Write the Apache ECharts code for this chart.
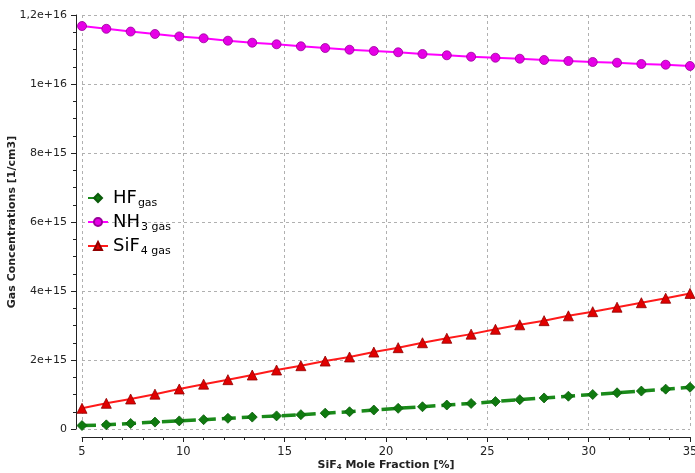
<!DOCTYPE html>
<html>
<head>
<meta charset="utf-8">
<script src="https://cdn.jsdelivr.net/npm/echarts@6/dist/echarts.min.js"></script>
<style>
html,body{margin:0;padding:0;background:#fff;}
#c{width:695px;height:473px;}
</style>
</head>
<body>
<div id="c"></div>
<script>
// SiF4 mole fraction [%]
var xValues = [5, 6.2, 7.4, 8.6, 9.8, 11, 12.2, 13.4, 14.6, 15.8, 17, 18.2, 19.4, 20.6, 21.8, 23, 24.2, 25.4, 26.6, 27.8, 29, 30.2, 31.4, 32.6, 33.8, 35];
// concentrations in units of 1e15 1/cm3
var hfGas = [0.10, 0.12, 0.16, 0.20, 0.235, 0.27, 0.31, 0.345, 0.38, 0.415, 0.46, 0.50, 0.55, 0.60, 0.645, 0.695, 0.74, 0.795, 0.85, 0.90, 0.95, 1.00, 1.05, 1.10, 1.155, 1.21];
var nh3Gas = [11.68, 11.60, 11.52, 11.45, 11.38, 11.325, 11.255, 11.197, 11.151, 11.093, 11.043, 10.994, 10.957, 10.919, 10.87, 10.832, 10.791, 10.762, 10.733, 10.696, 10.667, 10.638, 10.617, 10.58, 10.559, 10.522];
var sif4Gas = [0.60, 0.745, 0.87, 1.01, 1.16, 1.30, 1.43, 1.565, 1.71, 1.835, 1.97, 2.087, 2.23, 2.357, 2.50, 2.63, 2.75, 2.89, 3.02, 3.14, 3.28, 3.40, 3.53, 3.66, 3.79, 3.93];
var seriesNames = ['HF_gas', 'NH3_gas', 'SiF4_gas'];
var legendMain = {'HF_gas': 'HF', 'NH3_gas': 'NH', 'SiF4_gas': 'SiF'};
var legendSub = {'HF_gas': 'gas', 'NH3_gas': '3 gas', 'SiF4_gas': '4 gas'};
var xTitle = 'SiF{s|4} Mole Fraction [%]';
var yTitle = 'Gas Concentrations [1/cm3]';

function pairs(ys) {
  return xValues.map(function (x, i) { return [x, ys[i] * 1e15]; });
}
function fmtY(v) {
  if (v === 0) return '0';
  var e = Math.floor(Math.log10(v) + 1e-9);
  var m = v / Math.pow(10, e);
  var ms = (Math.round(m * 10) / 10).toString().replace('.', ',');
  return ms + 'e+' + e;
}

var FONT = 'DejaVu Sans';
var chart = echarts.init(document.getElementById('c'), null, {renderer: 'canvas'});
var option = {
  animation: false,
  backgroundColor: '#ffffff',
  textStyle: {fontFamily: FONT},
  grid: {left: 82, right: 5, top: 15, bottom: 44, containLabel: false, outerBoundsMode: 'none'},
  legend: {
    orient: 'vertical',
    left: 82,
    top: 184,
    itemWidth: 20,
    itemHeight: 10,
    itemGap: 4,
    data: seriesNames,
    formatter: function (n) { return '{m|' + legendMain[n] + '}{s|' + legendSub[n] + '}'; },
    textStyle: {
      color: '#000',
      rich: {
        m: {fontSize: 18, fontFamily: FONT, lineHeight: 22, verticalAlign: 'middle', color: '#000'},
        s: {fontSize: 11, fontFamily: FONT, lineHeight: 16, verticalAlign: 'bottom', color: '#000', padding: [0, 0, 0, 1]}
      }
    }
  },
  xAxis: {
    type: 'value',
    min: 5, max: 35, interval: 5,
    offset: 8,
    name: xTitle,
    nameLocation: 'middle',
    nameGap: 23,
    nameMoveOverlap: false,
    nameTextStyle: {
      fontFamily: FONT, fontSize: 11, fontWeight: 'bold', color: '#222',
      rich: {s: {fontFamily: FONT, fontSize: 7, fontWeight: 'bold', color: '#222', verticalAlign: 'bottom', lineHeight: 10}}
    },
    axisLine: {show: true, onZero: false, lineStyle: {color: '#222', width: 1}},
    axisTick: {show: true, length: 5, lineStyle: {color: '#222'}},
    minorTick: {show: true, splitNumber: 5, length: 3, lineStyle: {color: '#222'}},
    axisLabel: {fontFamily: FONT, fontSize: 11.5, color: '#222', margin: 9},
    splitLine: {show: true, lineStyle: {color: '#b0b0b0', type: [3, 3], width: 1}}
  },
  yAxis: {
    type: 'value',
    min: 0, max: 1.2e16, interval: 2e15,
    offset: 6,
    name: yTitle,
    nameLocation: 'middle',
    nameGap: 58,
    nameMoveOverlap: false,
    nameTextStyle: {fontFamily: FONT, fontSize: 11, fontWeight: 'bold', color: '#222'},
    axisLine: {show: true, lineStyle: {color: '#222', width: 1}},
    axisTick: {show: true, length: 5, lineStyle: {color: '#222'}},
    minorTick: {show: true, splitNumber: 4, length: 3, lineStyle: {color: '#222'}},
    axisLabel: {fontFamily: FONT, fontSize: 11, color: '#222', margin: 9, formatter: fmtY},
    splitLine: {show: true, lineStyle: {color: '#b0b0b0', type: [3, 3], width: 1}}
  },
  series: [
    {
      name: 'HF_gas', type: 'line', data: pairs(hfGas),
      symbol: 'diamond', symbolSize: 10, showAllSymbol: true,
      lineStyle: {color: '#1a8a1a', width: 3.5, type: [14, 6]},
      itemStyle: {color: '#0f7a0f', borderColor: '#0a5a0a', borderWidth: 0.8},
      z: 3
    },
    {
      name: 'NH3_gas', type: 'line', data: pairs(nh3Gas),
      symbol: 'circle', symbolSize: 9, showAllSymbol: true,
      lineStyle: {color: '#ff00ff', width: 2},
      itemStyle: {color: '#e600e6', borderColor: '#990099', borderWidth: 0.8},
      z: 3
    },
    {
      name: 'SiF4_gas', type: 'line', data: pairs(sif4Gas),
      symbol: 'triangle', symbolSize: 10, showAllSymbol: true,
      lineStyle: {color: '#ff1a1a', width: 2},
      itemStyle: {color: '#e00000', borderColor: '#900000', borderWidth: 0.8},
      z: 3
    }
  ]
};
chart.setOption(option);
</script>
</body>
</html>
